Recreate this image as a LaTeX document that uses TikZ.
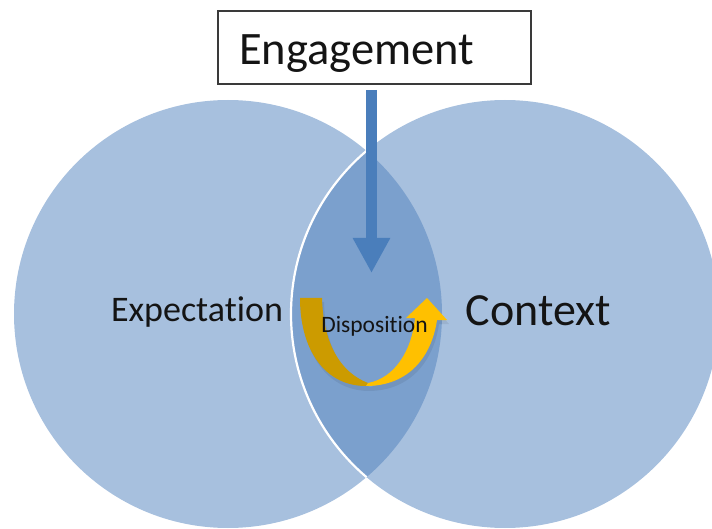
\documentclass[tikz,border=0pt]{standalone}
\usepackage{fontspec}
\setmainfont{Carlito}[Ligatures=NoCommon]
\usetikzlibrary{arrows.meta}
\definecolor{circfill}{HTML}{A7C0DE}
\definecolor{lensfill}{HTML}{7BA0CD}
\definecolor{arrowblue}{HTML}{4A7EBB}
\definecolor{goldlight}{HTML}{FFC000}
\definecolor{golddark}{HTML}{CC9B00}
\definecolor{boxline}{HTML}{3A3A3A}
\definecolor{txt}{HTML}{141414}
\tikzset{
  venn/.style={circle, fill=circfill, minimum size=428pt, inner sep=0pt},
  lbl/.style={anchor=base, inner sep=0pt, text=txt},
  engbox/.style={draw=boxline, line width=1.5pt, fill=white, minimum width=313pt, minimum height=73pt, inner sep=0pt},
  downarrow/.style={draw=arrowblue, line width=11pt, -{Triangle[length=35pt,width=35pt]}}
}
\begin{document}
\begin{tikzpicture}[x=1pt,y=-1pt]
\useasboundingbox (0,0) rectangle (712,529);
\clip (0,0) rectangle (712,529);
% Venn circles
\node[venn] (expc) at (228,314) {};
\node[venn] (ctxc) at (505,314) {};
\begin{scope}
  \clip (228,314) circle (214pt);
  \fill[lensfill] (505,314) circle (214pt);
  \draw[white, line width=2.2pt] (505,314) circle (214pt);
\end{scope}
% Engagement box
\node[engbox] (eng) at (374.5,47.5) {};
\node[anchor=base west, inner sep=0pt, text=txt, font=\fontsize{46.5}{50}\selectfont] (englbl) at (239,65) {Engagement};
% blue arrow
\coordinate (astart) at (371.5,90);
\coordinate (aend) at (371.5,273);
\draw[downarrow] (astart) -- (aend);
% labels
\node[lbl, font=\fontsize{36}{40}\selectfont] (exptxt) at (197,322) {Expectation};
\node[lbl, font=\fontsize{46}{50}\selectfont] (ctxtxt) at (538.5,326) {Context};
% yellow U-turn arrow
\fill[black, opacity=0.07] (302,302) -- (324,302) .. controls (325,339) and (337,374) .. (370,387) -- (368,391) .. controls (412,391) and (434,359) .. (439,324) -- (449,324) -- (429,302) -- (408,322) -- (417,322) -- (417,322) .. controls (414,354) and (397,382) .. (370,387) -- (368,391) .. controls (327,390) and (302,354) .. (302,302) -- cycle;
\fill[golddark] (300,298) -- (322,298) .. controls (323,335) and (335,370) .. (368,383) -- (366,386) .. controls (325,386) and (300,350) .. (300,298) -- cycle;
\fill[goldlight] (366,386) .. controls (410,386) and (432,355) .. (437,320) -- (447,320) -- (427,298) -- (406,318) -- (415,318) .. controls (412,350) and (395,378) .. (368,383) -- cycle;
\node[lbl, font=\fontsize{23.5}{26}\selectfont] (disp) at (374.5,332) {Disposition};
\end{tikzpicture}
\end{document}
